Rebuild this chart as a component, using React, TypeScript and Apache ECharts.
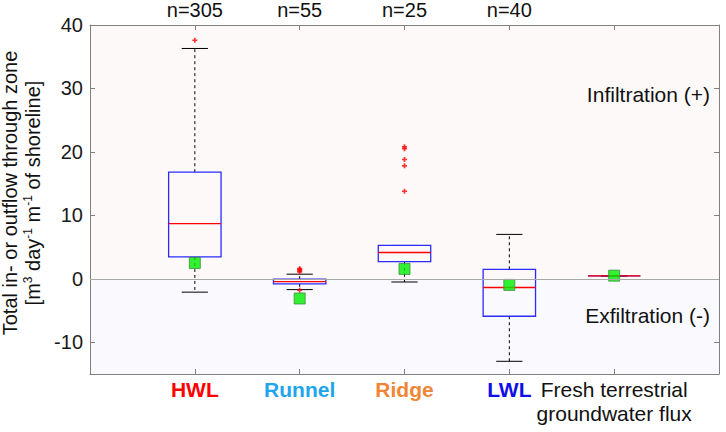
import React, { useEffect, useRef } from "react";
import * as echarts from "echarts";

const categories = ["HWL", "Runnel", "Ridge", "LWL", "Fresh terrestrial groundwater flux"];
const catKeys = ["hwl", "runnel", "ridge", "lwl", "fresh"];
const sampleCounts = ["n=305", "n=55", "n=25", "n=40"];
// [position, lowerWhisker, q1, median, q3, upperWhisker]
const boxStats = [
  [1, -2.1, 3.45, 8.7, 16.8, 36.3],
  [2, -1.7, -0.8, -0.43, -0.06, 0.73],
  [3, -0.5, 2.7, 4.15, 5.26, 5.26],
  [4, -13.0, -5.9, -1.37, 1.5, 7.0],
  [5, 0.46, 0.46, 0.46, 0.46, 0.46],
];
const outliers = [
  [1, 37.6],
  [2, 1.1], [2, 1.3], [2, 1.5], [2, 1.6], [2, -1.8],
  [3, 20.5], [3, 20.8], [3, 18.8], [3, 17.8], [3, 13.8],
];
const means = [
  [1, 2.5],
  [2, -3.1],
  [3, 1.56],
  [4, -0.96],
  [5, 0.5],
];
const yTicks = [-10, 0, 10, 20, 30, 40];
const xTicks = [1, 2, 3, 4, 5];

const FONT = "Liberation Sans, Arial, Helvetica, sans-serif";
const AXIS_COLOR = "#808080";

export default function App() {
  const ref = useRef<HTMLDivElement>(null);
  useEffect(() => {
    if (!ref.current) return;
    const chart = echarts.init(ref.current, undefined, { renderer: "svg" });
    const axisLineStyle = { show: true, onZero: false, lineStyle: { color: AXIS_COLOR, width: 1 } };
    const catStyle = (color: string) => ({
      color,
      fontWeight: "bold",
      fontSize: 21,
      fontFamily: FONT,
      lineHeight: 24,
    });
    const option: any = {
      animation: false,
      backgroundColor: "#ffffff",
      textStyle: { fontFamily: FONT },
      grid: { left: 90, right: 7, top: 25, bottom: 58, containLabel: false, outerBoundsMode: "none" },
      xAxis: [
        {
          type: "value",
          position: "bottom",
          min: 0,
          max: 6,
          axisLine: axisLineStyle,
          splitLine: { show: false },
          axisTick: { show: true, inside: true, length: 5, customValues: xTicks, lineStyle: { color: AXIS_COLOR } },
          axisLabel: {
            show: true,
            customValues: xTicks,
            margin: 3,
            fontFamily: FONT,
            formatter: (v: number) => {
              const i = Math.round(v) - 1;
              if (i === 4) return "{fresh|Fresh terrestrial}\n{fresh|groundwater flux}";
              return "{" + catKeys[i] + "|" + categories[i] + "}";
            },
            rich: {
              hwl: catStyle("#ff0000"),
              runnel: catStyle("#1ea5ee"),
              ridge: catStyle("#f08535"),
              lwl: catStyle("#1010e6"),
              fresh: { color: "#111111", fontSize: 21, fontFamily: FONT, lineHeight: 24 },
            },
          },
        },
        {
          type: "value",
          position: "top",
          min: 0,
          max: 6,
          axisLine: axisLineStyle,
          splitLine: { show: false },
          axisTick: { show: true, inside: true, length: 5, customValues: xTicks, lineStyle: { color: AXIS_COLOR } },
          axisLabel: {
            show: true,
            customValues: [1, 2, 3, 4],
            margin: 5,
            color: "#111111",
            fontSize: 20,
            lineHeight: 20,
            fontFamily: FONT,
            formatter: (v: number) => sampleCounts[Math.round(v) - 1] || "",
          },
        },
      ],
      yAxis: [
        {
          type: "value",
          position: "left",
          min: -15,
          max: 40,
          axisLine: axisLineStyle,
          splitLine: { show: false },
          axisTick: { show: true, inside: true, length: 5, customValues: yTicks, lineStyle: { color: AXIS_COLOR } },
          axisLabel: {
            show: true,
            customValues: yTicks,
            margin: 7,
            color: "#1a1a1a",
            fontSize: 20,
            fontFamily: FONT,
          },
          name: "{a|Total in- or outflow through zone}\n{a|[m}{s|3}{a| day}{s|-1}{a| m}{s|-1}{a| of shoreline]}",
          nameLocation: "middle",
          nameGap: 40,
          nameRotate: 90,
          nameTextStyle: {
            padding: [0, 0, 0, 13],
            rich: {
              a: { fontSize: 20, color: "#111111", fontFamily: FONT, lineHeight: 23 },
              s: { fontSize: 12, color: "#111111", fontFamily: FONT, verticalAlign: "top", lineHeight: 23 },
            },
          },
        },
        {
          type: "value",
          position: "right",
          min: -15,
          max: 40,
          axisLine: axisLineStyle,
          splitLine: { show: false },
          axisTick: { show: true, inside: true, length: 5, customValues: yTicks, lineStyle: { color: AXIS_COLOR } },
          axisLabel: { show: false },
        },
      ],
      graphic: [
        {
          type: "text",
          right: 16,
          top: 84,
          style: { text: "Infiltration (+)", fontSize: 21, fill: "#111111", fontFamily: FONT },
          z: 10,
        },
        {
          type: "text",
          right: 16,
          top: 305,
          style: { text: "Exfiltration (-)", fontSize: 21, fill: "#111111", fontFamily: FONT },
          z: 10,
        },
      ],
      series: [
        {
          type: "custom",
          xAxisIndex: 0,
          yAxisIndex: 0,
          data: boxStats,
          encode: { x: 0, y: [1, 2, 3, 4, 5] },
          z: 2,
          renderItem: (params: any, api: any) => {
            const x = api.value(0);
            const lo = api.value(1);
            const q1 = api.value(2);
            const med = api.value(3);
            const q3 = api.value(4);
            const hi = api.value(5);
            const pLo = api.coord([x, lo]);
            const pQ1 = api.coord([x, q1]);
            const pMed = api.coord([x, med]);
            const pQ3 = api.coord([x, q3]);
            const pHi = api.coord([x, hi]);
            const halfBox = api.size([0.5, 0])[0] / 2;
            const halfCap = api.size([0.25, 0])[0] / 2;
            const cx = pMed[0];
            const dashed = { stroke: "#000000", lineWidth: 1, lineDash: [3, 3] };
            const solid = { stroke: "#000000", lineWidth: 1 };
            return {
              type: "group",
              children: [
                { type: "line", shape: { x1: cx, y1: pQ3[1], x2: cx, y2: pHi[1] }, style: dashed },
                { type: "line", shape: { x1: cx, y1: pQ1[1], x2: cx, y2: pLo[1] }, style: dashed },
                { type: "line", shape: { x1: cx - halfCap, y1: pHi[1], x2: cx + halfCap, y2: pHi[1] }, style: solid },
                { type: "line", shape: { x1: cx - halfCap, y1: pLo[1], x2: cx + halfCap, y2: pLo[1] }, style: solid },
                {
                  type: "rect",
                  shape: { x: cx - halfBox, y: pQ3[1], width: halfBox * 2, height: pQ1[1] - pQ3[1] },
                  style: { fill: "none", stroke: "#2b2bff", lineWidth: 1.3 },
                },
                {
                  type: "line",
                  shape: { x1: cx - halfBox, y1: pMed[1], x2: cx + halfBox, y2: pMed[1] },
                  style: { stroke: "#ff0000", lineWidth: 1.3 },
                },
              ],
            };
          },
          markArea: {
            silent: true,
            z: 0,
            data: [
              [{ yAxis: 0, itemStyle: { color: "#fdf9f9" } }, { yAxis: 40 }],
              [{ yAxis: -15, itemStyle: { color: "#fafafe" } }, { yAxis: 0 }],
            ],
          },
          markLine: {
            silent: true,
            symbol: ["none", "none"],
            label: { show: false },
            lineStyle: { color: "#a8a8a8", width: 1, type: "solid" },
            data: [{ yAxis: 0 }],
          },
        },
        {
          type: "scatter",
          xAxisIndex: 0,
          yAxisIndex: 0,
          data: outliers,
          symbol: "path://M1,0H2V1H3V2H2V3H1V2H0V1H1Z",
          symbolSize: 5,
          itemStyle: { color: "#ff0000" },
          z: 3,
        },
        {
          type: "scatter",
          xAxisIndex: 0,
          yAxisIndex: 0,
          data: means,
          symbol: "rect",
          symbolSize: 11,
          itemStyle: { color: "#00ee00", borderColor: "#3f8f3f", borderWidth: 1 },
          z: 4,
        },
      ],
    };
    chart.setOption(option);
    return () => chart.dispose();
  }, []);
  return <div ref={ref} style={{ width: 726, height: 432, position: "absolute", left: 0, top: 0 }} />;
}
